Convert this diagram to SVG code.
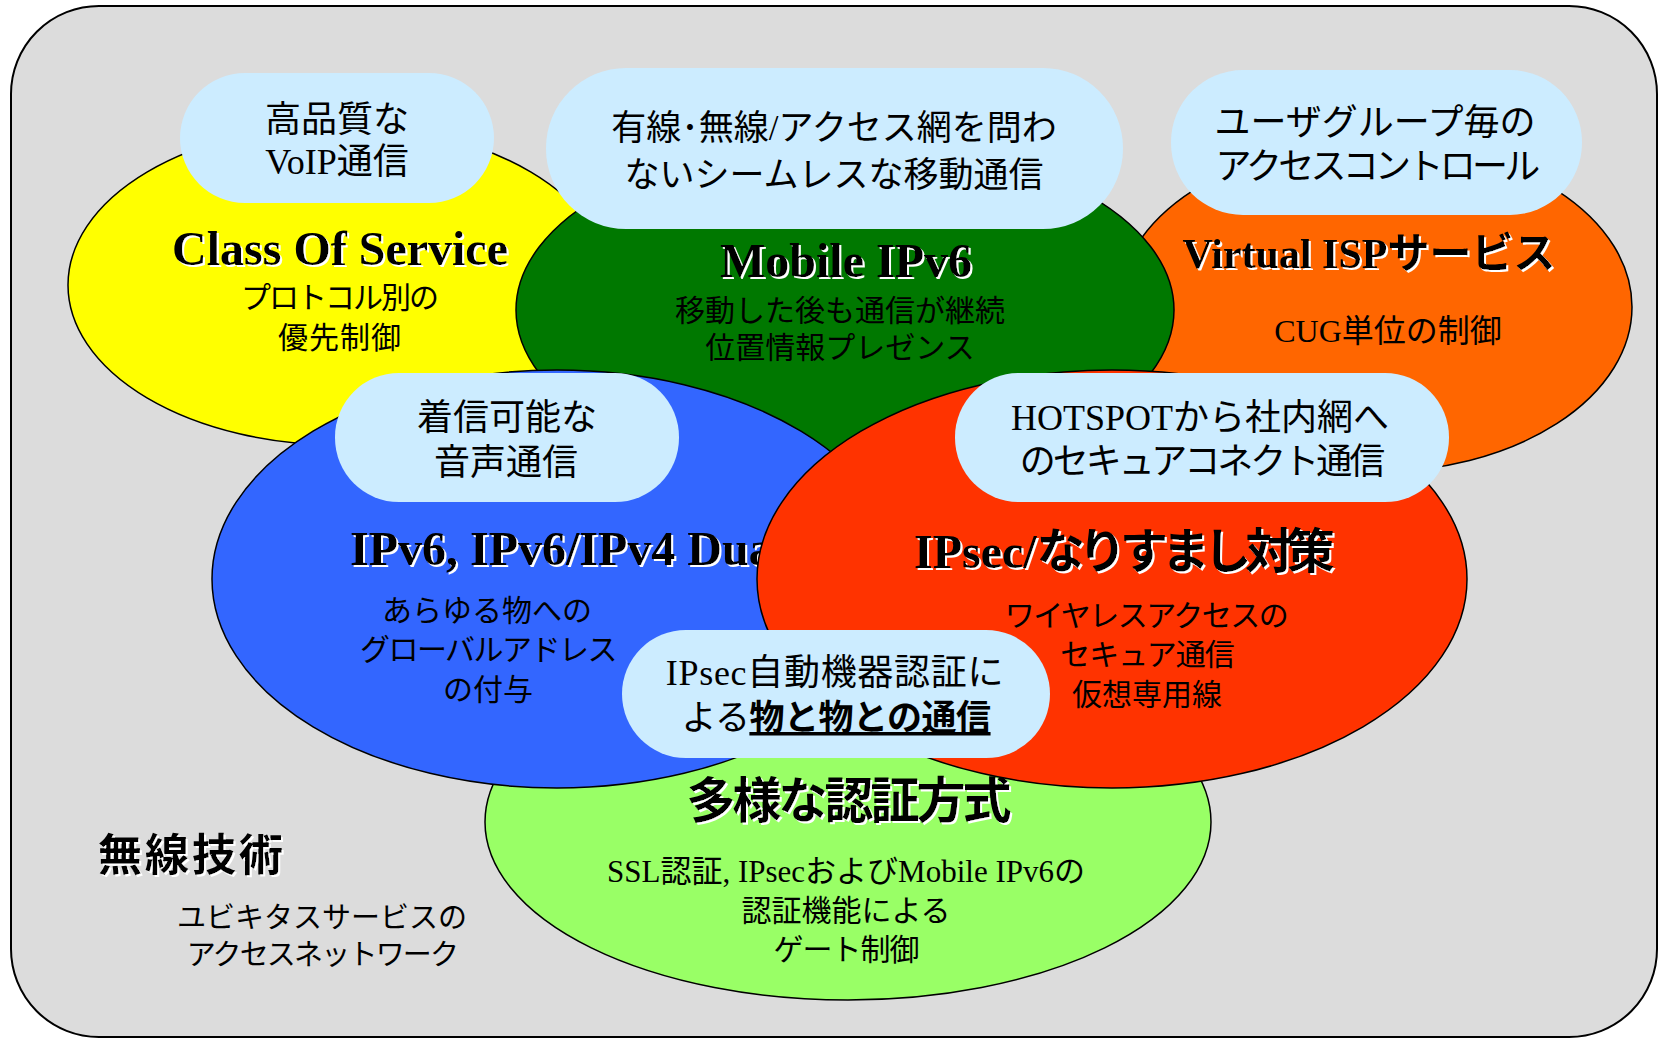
<svg xmlns="http://www.w3.org/2000/svg" width="1663" height="1038" viewBox="0 0 1663 1038">
<defs>
<filter id="sh" x="-5%" y="-15%" width="115%" height="140%"><feDropShadow dx="2" dy="2" stdDeviation="0" flood-color="#ffffff" flood-opacity="1"/></filter>
<style>
text { font-family: "Liberation Serif", "Noto Sans CJK JP", serif; fill: #000; text-anchor: middle; }
.ell { stroke: #000; stroke-width: 1.5; }
.cloud { fill: #CCECFF; }
.title { font-weight: bold; filter: url(#sh); }
.sub { font-size: 30px; }
.ct { font-size: 36px; }
</style>
</defs>
<g id="frame"><rect x="11" y="6" width="1646" height="1031" rx="88" ry="88" fill="#DCDCDC" stroke="#000" stroke-width="2"/></g>
<g id="connectors"></g>
<g id="node-auth">
<ellipse class="ell" cx="848" cy="822" rx="363" ry="178" fill="#99FF66"/>
<text class="title" x="849" y="818" font-size="49" textLength="325" lengthAdjust="spacing">多様な認証方式</text>
<text x="846" y="882" font-size="31">SSL認証, IPsecおよびMobile IPv6の</text>
<text class="sub" x="846" y="921">認証機能による</text>
<text class="sub" x="846" y="960" letter-spacing="-1">ゲート制御</text>
</g>
<g id="node-cos">
<ellipse class="ell" cx="339" cy="285" rx="271" ry="160" fill="#FFFF00"/>
<text class="title" x="340" y="265" font-size="48">Class Of Service</text>
<text class="sub" x="339" y="308" letter-spacing="-2">プロトコル別の</text>
<text class="sub" x="340" y="348" letter-spacing="1">優先制御</text>
</g>
<g id="node-visp">
<ellipse class="ell" cx="1375" cy="307" rx="257" ry="165" fill="#FF6600"/>
<text class="title" x="1369" y="268" font-size="42">Virtual ISPサービス</text>
<text x="1388" y="342" font-size="32">CUG単位の制御</text>
</g>
<g id="node-mip">
<ellipse class="ell" cx="845" cy="310" rx="329" ry="171" fill="#007800"/>
<text class="title" x="846" y="277" font-size="48">Mobile IPv6</text>
<text class="sub" x="840" y="321">移動した後も通信が継続</text>
<text class="sub" x="840" y="358">位置情報プレゼンス</text>
</g>
<g id="node-dual">
<ellipse class="ell" cx="557" cy="579" rx="345" ry="209" fill="#3366FF"/>
<text class="title" x="350" y="565" font-size="48" style="text-anchor:start">IPv6, IPv6/IPv4 Dua</text>
<text class="sub" x="487" y="621">あらゆる物への</text>
<text class="sub" x="488" y="660" letter-spacing="-1.5">グローバルアドレス</text>
<text class="sub" x="488" y="700">の付与</text>
</g>
<g id="node-ipsec">
<ellipse class="ell" cx="1112" cy="579" rx="355" ry="209" fill="#FF3300"/>
<text class="title" x="914" y="568" font-size="48" style="text-anchor:start">IPsec/<tspan letter-spacing="-6.3">なりすまし対策</tspan></text>
<text class="sub" x="1146" y="626" letter-spacing="-1.5">ワイヤレスアクセスの</text>
<text class="sub" x="1147" y="665" letter-spacing="-1">セキュア通信</text>
<text class="sub" x="1147" y="705">仮想専用線</text>
</g>
<g id="cloud-voip">
<rect class="cloud" x="180" y="73" width="314" height="130" rx="65" ry="65"/>
<text class="ct" x="337" y="132">高品質な</text>
<text class="ct" x="337" y="174">VoIP通信</text>
</g>
<g id="cloud-seamless">
<rect class="cloud" x="546" y="68" width="577" height="161" rx="80" ry="80"/>
<text x="834" y="140" font-size="35">有線･無線/アクセス網を問わ</text>
<text x="834" y="187" font-size="35">ないシームレスな移動通信</text>
</g>
<g id="cloud-access">
<rect class="cloud" x="1171" y="70" width="411" height="145" rx="72" ry="72"/>
<text class="ct" x="1375" y="135">ユーザグループ毎の</text>
<text class="ct" x="1376" y="179" letter-spacing="-3.7">アクセスコントロール</text>
</g>
<g id="cloud-voice">
<rect class="cloud" x="335" y="373" width="344" height="129" rx="64" ry="64"/>
<text class="ct" x="507" y="430">着信可能な</text>
<text class="ct" x="506" y="475">音声通信</text>
</g>
<g id="cloud-hotspot">
<rect class="cloud" x="955" y="373" width="494" height="129" rx="64" ry="64"/>
<text class="ct" x="1200" y="430">HOTSPOTから社内網へ</text>
<text class="ct" x="1201" y="474" letter-spacing="-3">のセキュアコネクト通信</text>
</g>
<g id="cloud-things">
<rect class="cloud" x="622" y="630" width="428" height="128" rx="64" ry="64"/>
<text class="ct" x="835" y="685" letter-spacing="0.7">IPsec自動機器認証に</text>
<text x="836" y="730" font-size="35" letter-spacing="-0.5">よる<tspan font-weight="bold" text-decoration="underline">物と物との通信</tspan></text>
</g>
<g id="wireless">
<text class="title" x="98" y="871" font-size="44" letter-spacing="3" style="text-anchor:start">無線技術</text>
<text x="322" y="928" font-size="29">ユビキタスサービスの</text>
<text x="322" y="965" font-size="29" letter-spacing="-1.8">アクセスネットワーク</text>
</g>
</svg>
